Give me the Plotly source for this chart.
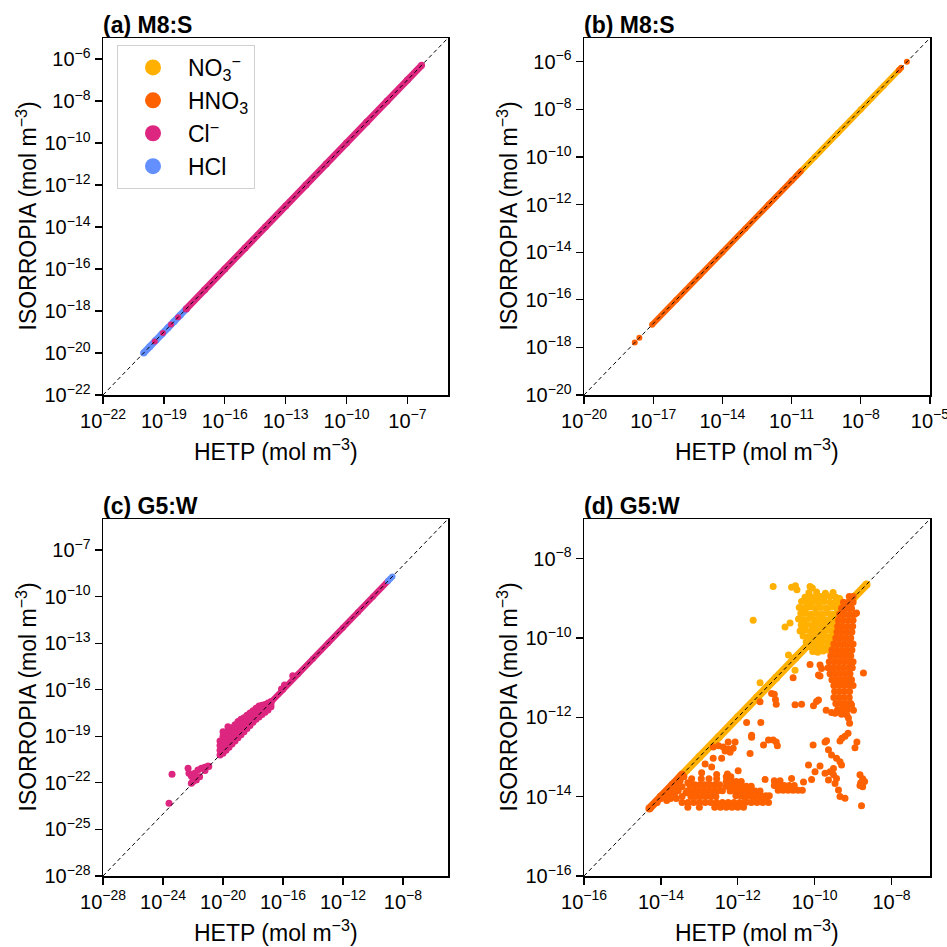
import plotly.graph_objects as go

# ---------------- data: log10 of concentrations (mol m^-3), (HETP, ISORROPIA) ----------------
# panel (a) M8:S
a_hcl_band = [(-20.0, -20.0), (-19.7, -19.7), (-19.4, -19.4), (-19.1, -19.1), (-18.8, -18.8),
              (-18.5, -18.5), (-18.2, -18.2), (-17.9, -17.9)]
a_cl_band = [(-17.9, -17.9), (-17.0, -17.0), (-16.0, -16.0), (-15.0, -15.0), (-14.0, -14.0),
             (-13.0, -13.0), (-12.0, -12.0), (-11.0, -11.0), (-10.0, -10.0), (-9.0, -9.0),
             (-8.0, -8.0), (-7.0, -7.0), (-6.3, -6.3)]
a_cl_pts = [(-19.45, -19.45), (-19.05, -19.05), (-18.65, -18.65), (-18.3, -18.3)]

# panel (b) M8:S
b_no3_band = [(-10.8, -10.8), (-10.0, -10.0), (-9.0, -9.0), (-8.0, -8.0), (-7.0, -7.0), (-6.3, -6.3)]
b_hno3_band = [(-17.05, -17.05), (-16.0, -16.0), (-15.0, -15.0), (-14.0, -14.0), (-13.0, -13.0),
               (-12.0, -12.0), (-11.0, -11.0), (-10.6, -10.6)]
b_hno3_pts = [(-17.8, -17.8), (-17.6, -17.6), (-6.35, -6.35), (-6.25, -6.25), (-6.0, -6.0)]

# panel (c) G5:W
c_cl_band = [(-16.8, -16.8), (-16.0, -16.0), (-15.0, -15.0), (-14.0, -14.0), (-13.0, -13.0),
             (-12.0, -12.0), (-11.0, -11.0), (-10.0, -10.0), (-9.0, -9.0)]
c_hcl_band = [(-9.0, -9.0), (-8.85, -8.85), (-8.7, -8.7)]
c_cl_pts = [
    (-20.2, -20.2), (-20.2, -19.9), (-20.2, -19.6), (-20.2, -19.3),
    (-20.0, -20.1), (-20.0, -19.8), (-20.0, -19.5), (-20.0, -19.2), (-20.0, -19.0),
    (-19.8, -19.9), (-19.8, -19.6), (-19.8, -19.3), (-19.8, -19.0), (-19.8, -18.8),
    (-19.6, -19.7), (-19.6, -19.4), (-19.6, -19.1), (-19.6, -18.8), (-19.6, -18.6),
    (-19.4, -19.5), (-19.4, -19.2), (-19.4, -18.9), (-19.4, -18.6), (-19.4, -18.45),
    (-19.2, -19.3), (-19.2, -19.0), (-19.2, -18.7), (-19.2, -18.4), (-19.2, -18.25),
    (-19.0, -19.1), (-19.0, -18.8), (-19.0, -18.5), (-19.0, -18.2), (-19.0, -18.05),
    (-18.8, -18.9), (-18.8, -18.6), (-18.8, -18.3), (-18.8, -18.0), (-18.8, -17.9),
    (-18.6, -18.7), (-18.6, -18.4), (-18.6, -18.1), (-18.6, -17.8),
    (-18.4, -18.5), (-18.4, -18.2), (-18.4, -17.9), (-18.4, -17.65),
    (-18.2, -18.3), (-18.2, -18.0), (-18.2, -17.7), (-18.2, -17.5),
    (-18.0, -18.1), (-18.0, -17.8), (-18.0, -17.5), (-18.0, -17.35),
    (-17.8, -17.9), (-17.8, -17.6), (-17.8, -17.3), (-17.8, -17.2),
    (-17.6, -17.75), (-17.6, -17.45), (-17.6, -17.15), (-17.6, -17.05),
    (-17.4, -17.6), (-17.4, -17.3), (-17.4, -17.0),
    (-17.2, -17.45), (-17.2, -17.15), (-17.2, -16.95),
    (-17.0, -17.3), (-17.0, -17.05), (-17.0, -16.85),
    (-16.8, -17.1), (-16.8, -16.9), (-16.8, -16.75),
    (-20.0, -18.7), (-19.67, -18.38),
    (-15.9, -15.7), (-15.35, -15.1), (-16.1, -15.95),
    (-23.4, -21.45), (-23.6, -23.32),
    (-22.33, -21.06), (-22.27, -21.38), (-22.11, -21.56), (-21.89, -21.38), (-22.0, -21.7),
    (-21.67, -21.17), (-21.44, -21.06), (-21.22, -21.0), (-21.0, -20.91), (-21.78, -21.81),
    (-22.11, -22.03), (-21.56, -21.6), (-22.0, -21.92), (-21.2, -21.2), (-20.95, -20.95),
]

# panel (d) G5:W
d_no3_band = [(-13.5, -13.5), (-13.0, -13.0), (-12.5, -12.5), (-12.0, -12.0), (-11.5, -11.5),
              (-11.0, -11.0), (-10.5, -10.5), (-10.0, -10.0), (-9.5, -9.5), (-9.0, -9.0),
              (-8.65, -8.65)]
d_no3_pts = [
    (-10.15, -8.86), (-9.95, -8.84), (-9.72, -8.87), (-9.52, -8.85),
    (-10.25, -8.97), (-10.1, -8.96), (-10.0, -8.98), (-9.85, -8.95), (-9.75, -8.97), (-9.6, -8.95), (-9.45, -8.97), (-9.35, -9.0),
    (-10.34, -9.08), (-10.2, -9.1), (-10.05, -9.09), (-9.9, -9.1), (-9.75, -9.08), (-9.6, -9.1), (-9.45, -9.1), (-9.32, -9.12),
    (-10.4, -9.23), (-10.26, -9.24), (-10.12, -9.22), (-9.98, -9.25), (-9.84, -9.23), (-9.7, -9.25), (-9.56, -9.22), (-9.42, -9.25), (-9.3, -9.26),
    (-10.36, -9.38), (-10.22, -9.37), (-10.08, -9.4), (-9.94, -9.38), (-9.8, -9.4), (-9.66, -9.37), (-9.52, -9.4), (-9.38, -9.38),
    (-10.42, -9.52), (-10.28, -9.53), (-10.14, -9.51), (-10.0, -9.54), (-9.86, -9.52), (-9.72, -9.54), (-9.58, -9.51), (-9.44, -9.54), (-9.33, -9.52),
    (-10.35, -9.67), (-10.21, -9.66), (-10.07, -9.68), (-9.93, -9.66), (-9.79, -9.68), (-9.65, -9.66), (-9.51, -9.68), (-9.4, -9.66),
    (-10.38, -9.82), (-10.24, -9.8), (-10.1, -9.82), (-9.96, -9.8), (-9.82, -9.82), (-9.68, -9.8), (-9.54, -9.82), (-9.43, -9.8),
    (-10.3, -9.95), (-10.16, -9.96), (-10.02, -9.94), (-9.88, -9.96), (-9.74, -9.94), (-9.6, -9.96), (-9.47, -9.95),
    (-10.22, -10.1), (-10.08, -10.08), (-9.94, -10.1), (-9.8, -10.09), (-9.66, -10.1), (-9.53, -10.08),
    (-10.12, -10.22), (-9.98, -10.24), (-9.84, -10.22), (-9.7, -10.24), (-9.58, -10.22),
    (-10.05, -10.34), (-9.92, -10.36), (-9.78, -10.33), (-9.66, -10.3),
    (-11.08, -8.7), (-10.6, -8.72), (-10.5, -8.68), (-10.46, -8.78), (-10.12, -8.7), (-10.06, -8.74),
    (-11.6, -9.55), (-10.77, -9.72), (-10.64, -9.62), (-10.68, -10.43), (-10.51, -10.81), (-11.42, -11.13),
]
d_hno3_band = [(-14.3, -14.3), (-14.0, -14.0), (-13.7, -13.7), (-13.45, -13.45)]
d_hno3_pts = [
    # column near HETP ~ 10^-9.3
    (-9.1, -8.95), (-9.0, -8.95),
    (-9.25, -9.1), (-9.12, -9.1), (-9.0, -9.1),
    (-9.3, -9.25), (-9.17, -9.25), (-9.04, -9.25),
    (-9.35, -9.4), (-9.22, -9.4), (-9.09, -9.4), (-8.96, -9.4),
    (-9.38, -9.55), (-9.25, -9.55), (-9.12, -9.55), (-9.0, -9.55),
    (-9.4, -9.7), (-9.27, -9.7), (-9.14, -9.7), (-9.01, -9.7),
    (-9.42, -9.85), (-9.29, -9.85), (-9.16, -9.85), (-9.03, -9.85),
    (-9.45, -10.0), (-9.32, -10.0), (-9.19, -10.0), (-9.06, -10.0),
    (-9.5, -10.15), (-9.37, -10.15), (-9.24, -10.15), (-9.11, -10.15), (-9.0, -10.15),
    (-9.55, -10.3), (-9.42, -10.3), (-9.29, -10.3), (-9.16, -10.3), (-9.03, -10.3),
    (-9.58, -10.45), (-9.45, -10.45), (-9.32, -10.45), (-9.19, -10.45), (-9.06, -10.45),
    (-9.62, -10.6), (-9.49, -10.6), (-9.36, -10.6), (-9.23, -10.6), (-9.1, -10.6), (-9.0, -10.6),
    (-9.65, -10.75), (-9.52, -10.75), (-9.39, -10.75), (-9.26, -10.75), (-9.13, -10.75), (-9.02, -10.75),
    (-9.6, -10.9), (-9.47, -10.9), (-9.34, -10.9), (-9.21, -10.9), (-9.08, -10.9),
    (-9.55, -11.05), (-9.42, -11.05), (-9.29, -11.05), (-9.16, -11.05), (-9.04, -11.05),
    (-9.5, -11.2), (-9.37, -11.2), (-9.24, -11.2), (-9.11, -11.2), (-9.0, -11.2),
    (-9.48, -11.35), (-9.35, -11.35), (-9.22, -11.35), (-9.09, -11.35),
    (-9.5, -11.5), (-9.37, -11.5), (-9.24, -11.5), (-9.1, -11.5),
    (-9.45, -11.65), (-9.32, -11.65), (-9.19, -11.65), (-9.06, -11.65),
    (-9.4, -11.8), (-9.27, -11.8), (-9.15, -11.8), (-9.3, -11.92),
    (-9.25, -11.9), (-9.21, -11.77), (-9.16, -11.94), (-9.12, -12.02), (-9.09, -12.15),
    (-8.99, -11.82), (-9.04, -11.69),
    # scattered points
    (-8.91, -9.37), (-8.73, -10.88), (-10.12, -10.67), (-9.86, -10.68), (-9.82, -10.77),
    (-9.9, -10.93), (-9.86, -10.96), (-10.56, -11.0),
    (-11.12, -11.4), (-11.05, -11.42), (-11.02, -11.55), (-11.0, -11.67), (-10.51, -11.68),
    (-11.42, -11.61), (-10.34, -11.67), (-10.03, -11.71), (-9.95, -11.6), (-9.9, -11.56),
    (-9.7, -11.82), (-9.56, -11.88), (-9.47, -11.9), (-9.43, -11.86),
    (-11.77, -12.13), (-11.4, -12.13), (-11.64, -12.45), (-11.64, -12.5), (-12.25, -12.62),
    (-12.07, -12.62), (-11.33, -12.7), (-11.2, -12.57), (-11.08, -12.57), (-11.0, -12.62),
    (-10.97, -12.72), (-11.68, -12.91),
    (-12.64, -12.75), (-12.5, -12.72), (-12.38, -12.75), (-12.25, -12.8), (-12.12, -12.78),
    (-12.2, -12.88), (-12.33, -12.85), (-12.42, -13.03), (-12.64, -13.03), (-12.85, -13.18),
    (-12.68, -13.25), (-12.94, -13.4), (-12.55, -13.44), (-12.27, -13.43), (-11.99, -13.35),
    (-11.29, -13.57), (-10.6, -13.54),
    (-9.13, -12.4), (-9.21, -12.48), (-9.29, -12.53), (-9.34, -12.6), (-8.9, -12.62),
    (-8.95, -12.77), (-9.73, -12.62), (-10.04, -12.7), (-9.69, -12.59),
    (-9.64, -12.82), (-9.56, -12.95), (-9.43, -13.03), (-9.34, -13.12), (-9.3, -13.2),
    (-9.51, -13.29), (-9.6, -13.37), (-9.73, -13.41), (-9.51, -13.45), (-9.64, -13.58),
    (-9.47, -13.67), (-9.43, -13.54), (-9.38, -13.83), (-9.34, -14.0), (-9.21, -14.04),
    (-10.16, -13.2), (-9.99, -13.37), (-10.29, -13.63), (-10.08, -13.57), (-9.86, -13.23),
    (-8.82, -13.45), (-8.75, -13.55), (-8.8, -13.65), (-8.7, -13.62), (-8.75, -13.75),
    (-8.82, -13.72), (-8.78, -14.23),
    # lower-left mass next to the 1:1 line
    (-14.1, -14.15), (-14.0, -14.05), (-13.9, -13.98), (-13.85, -14.1), (-13.8, -13.9),
    (-13.7, -13.8), (-13.65, -13.95), (-13.6, -13.7), (-13.55, -13.85), (-13.5, -13.6),
    (-13.45, -13.75), (-13.4, -13.5), (-13.35, -13.9), (-13.3, -13.65), (-13.75, -14.05),
    (-13.6, -14.05), (-13.45, -14.0),
    # lower-left blob
    (-13.2, -13.55), (-12.95, -13.55), (-12.75, -13.55), (-12.55, -13.55),
    (-13.25, -13.7), (-13.12, -13.7), (-12.99, -13.7), (-12.86, -13.7), (-12.73, -13.7), (-12.6, -13.7), (-12.47, -13.7),
    (-13.3, -13.85), (-13.17, -13.85), (-13.04, -13.85), (-12.91, -13.85), (-12.78, -13.85), (-12.65, -13.85), (-12.52, -13.85), (-12.4, -13.85),
    (-13.22, -14.0), (-13.09, -14.0), (-12.96, -14.0), (-12.83, -14.0), (-12.7, -14.0), (-12.57, -14.0),
    # bottom strip
    (-13.45, -14.15), (-13.3, -14.15), (-13.15, -14.15), (-13.0, -14.15), (-12.85, -14.15), (-12.7, -14.15),
    (-12.55, -14.15), (-12.4, -14.15), (-12.25, -14.15), (-12.1, -14.15), (-11.95, -14.15), (-11.8, -14.15),
    (-11.65, -14.15), (-11.5, -14.15), (-11.35, -14.15), (-11.2, -14.15),
    (-13.3, -14.27), (-13.0, -14.27), (-12.6, -14.27), (-12.45, -14.27), (-12.3, -14.27), (-12.15, -14.27),
    (-12.0, -14.27), (-11.85, -14.27),
    # middle blob
    (-12.3, -13.5), (-12.18, -13.5),
    (-12.3, -13.62), (-12.17, -13.62), (-12.04, -13.62), (-11.91, -13.62),
    (-12.3, -13.74), (-12.17, -13.74), (-12.04, -13.74), (-11.91, -13.74), (-11.78, -13.74), (-11.65, -13.74),
    (-12.2, -13.86), (-12.07, -13.86), (-11.94, -13.86), (-11.81, -13.86), (-11.68, -13.86), (-11.55, -13.86), (-11.42, -13.86),
    (-12.05, -13.98), (-11.92, -13.98), (-11.79, -13.98), (-11.66, -13.98), (-11.53, -13.98), (-11.4, -13.98), (-11.27, -13.98), (-11.18, -13.98),
    (-11.8, -14.08), (-11.6, -14.08), (-11.4, -14.08), (-11.25, -14.08),
    # right blob
    (-11.05, -13.6), (-10.9, -13.6),
    (-11.05, -13.72), (-10.92, -13.72), (-10.79, -13.72), (-10.66, -13.72), (-10.53, -13.72),
    (-10.95, -13.84), (-10.82, -13.84), (-10.69, -13.84), (-10.56, -13.84), (-10.43, -13.84), (-10.32, -13.84),
]

# axis ranges and tick exponents per panel
a_range, a_xticks, a_yticks = [-22, -5], [-22, -19, -16, -13, -10, -7], [-22, -20, -18, -16, -14, -12, -10, -8, -6]
b_range, b_xticks, b_yticks = [-20, -5], [-20, -17, -14, -11, -8, -5], [-20, -18, -16, -14, -12, -10, -8, -6]
c_range, c_xticks, c_yticks = [-28, -5], [-28, -24, -20, -16, -12, -8], [-28, -25, -22, -19, -16, -13, -10, -7]
d_range, d_xticks, d_yticks = [-16, -7], [-16, -14, -12, -10, -8], [-16, -14, -12, -10, -8]

panel_titles = ["(a) M8:S", "(b) M8:S", "(c) G5:W", "(d) G5:W"]
legend_names = ["NO<sub>3</sub><sup>−</sup>", "HNO<sub>3</sub>", "Cl<sup>−</sup>", "HCl"]

C_NO3, C_HNO3, C_CL, C_HCL = "#FFB000", "#FE6100", "#DC267F", "#648FFF"
FONT = "Liberation Sans, Arial, sans-serif"

fig = go.Figure()


def add_pts(pts, color, ax, band=False, size=7, width=7):
    xs = [10 ** p[0] for p in pts]
    ys = [10 ** p[1] for p in pts]
    if band:
        fig.add_trace(go.Scatter(x=xs, y=ys, mode="lines+markers", xaxis=ax[0], yaxis=ax[1],
                                 line=dict(color=color, width=width),
                                 marker=dict(color=color, size=size, line=dict(width=0)),
                                 showlegend=False, hoverinfo="skip"))
    else:
        fig.add_trace(go.Scatter(x=xs, y=ys, mode="markers", xaxis=ax[0], yaxis=ax[1],
                                 marker=dict(color=color, size=size, line=dict(width=0)),
                                 showlegend=False, hoverinfo="skip"))


A, B, Cc, D = ("x", "y"), ("x2", "y2"), ("x3", "y3"), ("x4", "y4")

# (a)
add_pts(a_hcl_band, C_HCL, A, band=True)
add_pts(a_cl_band, C_CL, A, band=True)
add_pts(a_cl_pts, C_CL, A, size=6)
# (b)
add_pts(b_no3_band, C_NO3, B, band=True, size=6, width=6)
add_pts(b_hno3_band, C_HNO3, B, band=True, size=6, width=6)
add_pts(b_hno3_pts, C_HNO3, B, size=6)
# (c)
add_pts(c_cl_band, C_CL, Cc, band=True, size=6, width=6)
add_pts(c_cl_pts, C_CL, Cc)
add_pts(c_hcl_band, C_HCL, Cc, band=True, size=6, width=6)
# (d)
add_pts(d_no3_band, C_NO3, D, band=True, size=8, width=8)
add_pts(d_no3_pts, C_NO3, D)
add_pts(d_hno3_band, C_HNO3, D, band=True, size=8, width=8)
add_pts(d_hno3_pts, C_HNO3, D)

# 1:1 lines
for ax, rng in zip([A, B, Cc, D], [a_range, b_range, c_range, d_range]):
    fig.add_trace(go.Scatter(x=[10 ** rng[0], 10 ** rng[1]], y=[10 ** rng[0], 10 ** rng[1]],
                             mode="lines", xaxis=ax[0], yaxis=ax[1], cliponaxis=True,
                             line=dict(color="black", width=1, dash="4px,3px"),
                             showlegend=False, hoverinfo="skip"))

# legend entries
for name, col in zip(legend_names, [C_NO3, C_HNO3, C_CL, C_HCL]):
    fig.add_trace(go.Scatter(x=[None], y=[None], mode="markers", name=name, xaxis="x", yaxis="y",
                             marker=dict(color=col, size=16), showlegend=True))

W = 947.0
boxes = {  # plot area pixel boxes: left, right, top, bottom
    "a": (103, 448, 38, 395), "b": (584, 930, 38, 395),
    "c": (103, 448, 519, 876), "d": (584, 930, 519, 876),
}
EPS = 0.002  # tiny range padding so end ticks stay visible


def tick_text(exps):
    return ["10<sup>−%d</sup>" % abs(e) for e in exps]


def axis_style(rng, ticks, dom, anchor):
    return dict(type="log", range=[rng[0] - EPS, rng[1] + EPS], domain=dom, anchor=anchor,
                automargin=False, ticklabeloverflow="allow",
                tickmode="array", tickvals=[10 ** e for e in ticks], ticktext=tick_text(ticks),
                showline=True, linecolor="black", linewidth=1.5, mirror=True,
                ticks="outside", ticklen=7, tickwidth=1.3, tickcolor="black",
                showgrid=False, zeroline=False,
                tickfont=dict(family=FONT, size=20, color="black"))


layout = dict(width=947, height=947, margin=dict(l=0, r=0, t=0, b=0, pad=0, autoexpand=False),
              paper_bgcolor="white", plot_bgcolor="white", font=dict(family=FONT, color="black"))
specs = [("a", "", a_range, a_xticks, a_yticks), ("b", "2", b_range, b_xticks, b_yticks),
         ("c", "3", c_range, c_xticks, c_yticks), ("d", "4", d_range, d_xticks, d_yticks)]
annotations = []
for (key, sfx, rng, xt, yt), title in zip(specs, panel_titles):
    l, r, t, b = boxes[key]
    xd = [l / W, r / W]
    yd = [1 - b / W, 1 - t / W]
    layout["xaxis" + sfx] = axis_style(rng, xt, xd, "y" + sfx)
    layout["yaxis" + sfx] = axis_style(rng, yt, yd, "x" + sfx)
    annotations.append(dict(text="<b>%s</b>" % title, x=(l - 2) / W, y=1 - (t - 13) / W,
                            xref="paper", yref="paper", xanchor="left", yanchor="middle",
                            showarrow=False, font=dict(family=FONT, size=23, color="black")))
    annotations.append(dict(text="HETP (mol m<sup>−3</sup>)", x=(l + r) / 2 / W, y=1 - (b + 55) / W,
                            xref="paper", yref="paper", xanchor="center", yanchor="middle",
                            showarrow=False, font=dict(family=FONT, size=23, color="black")))
    annotations.append(dict(text="ISORROPIA (mol m<sup>−3</sup>)", x=(l - 77) / W, y=1 - (t + b) / 2 / W,
                            xref="paper", yref="paper", xanchor="center", yanchor="middle", textangle=-90,
                            showarrow=False, font=dict(family=FONT, size=23, color="black")))
layout["annotations"] = annotations
layout["legend"] = dict(x=117 / W, y=1 - 45 / W, xanchor="left", yanchor="top",
                        bgcolor="white", bordercolor="#d0d0d0", borderwidth=1,
                        font=dict(family=FONT, size=23, color="black"),
                        itemsizing="trace", itemwidth=60, tracegroupgap=0)
fig.update_layout(**layout)
fig.write_html("out.html", config={"displayModeBar": False, "staticPlot": True},
               post_script="document.body.style.margin='0';document.body.style.overflow='hidden';")
